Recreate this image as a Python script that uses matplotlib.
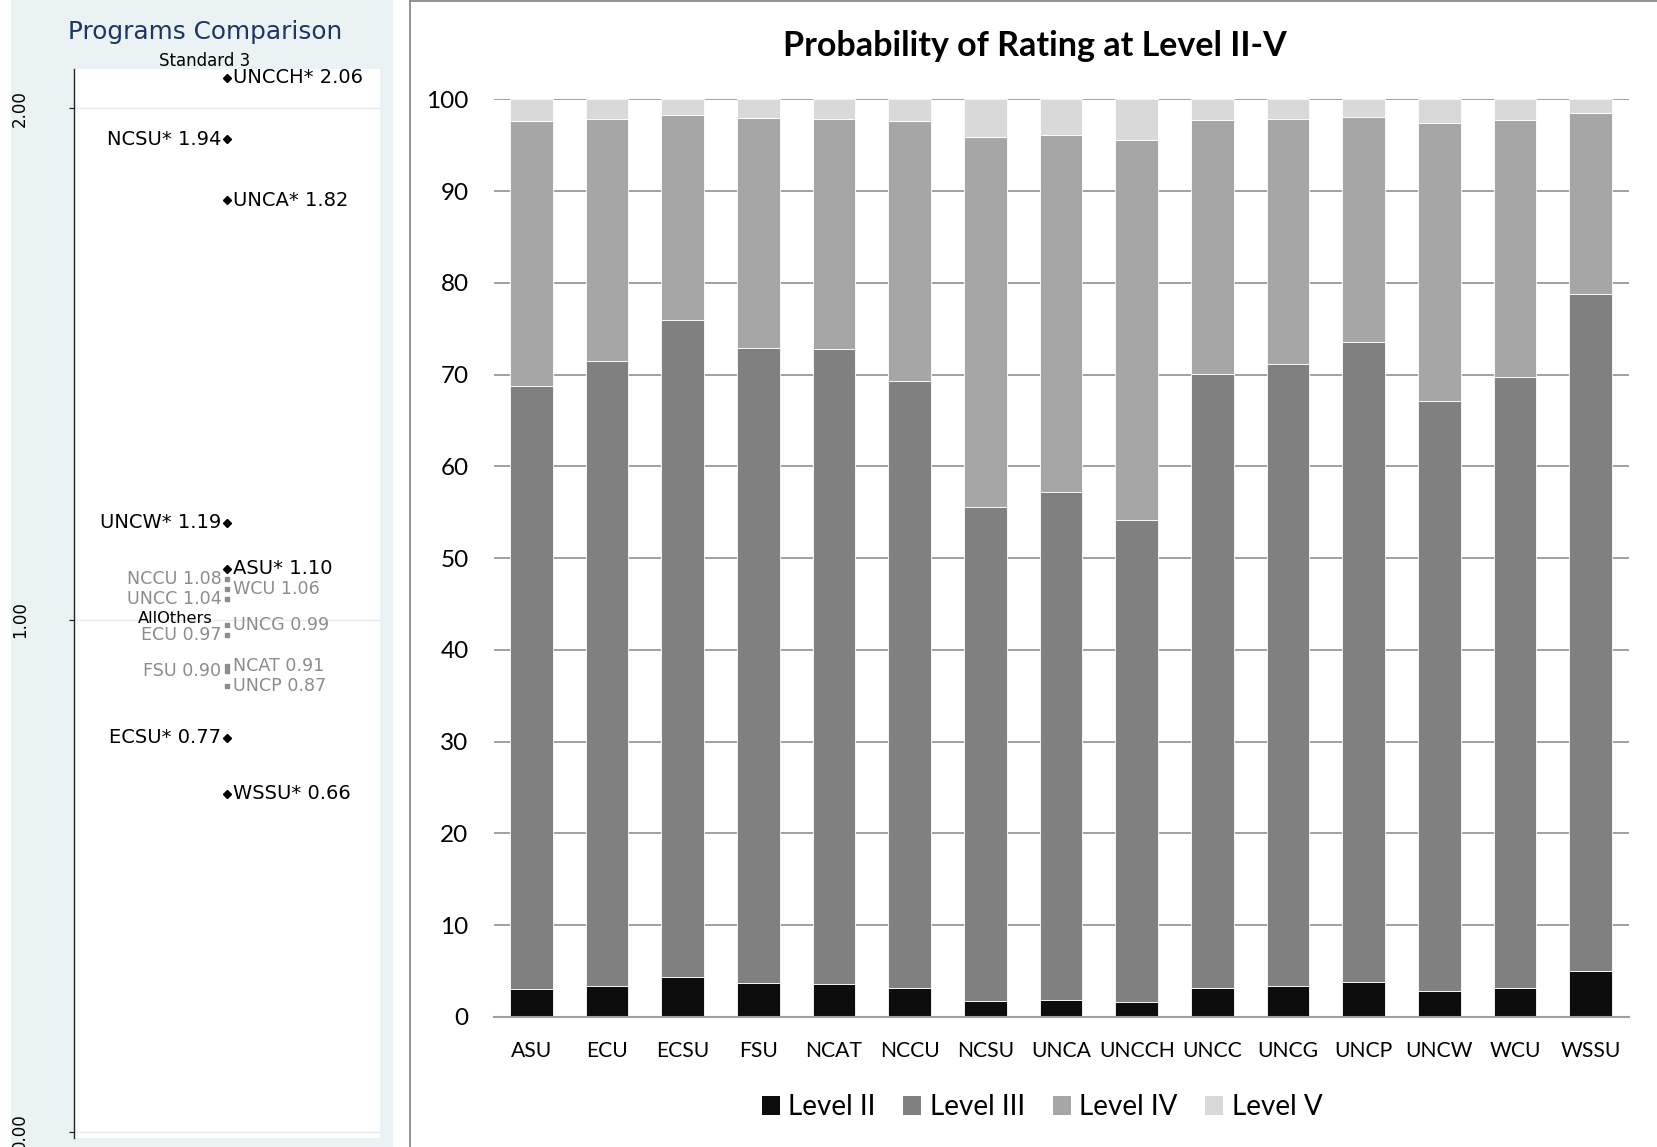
"""
Programs comparison (Standard 3) and probability of rating at level II-V
"""

import numpy as np
import matplotlib
matplotlib.use('Agg')
import matplotlib.pyplot as plt
from matplotlib.patches import Rectangle, Patch
from matplotlib.lines import Line2D

# ---- left panel data (Stata style dot chart)
prog_names = ['UNCCH*', 'NCSU*', 'UNCA*', 'UNCW*', 'ASU*', 'NCCU', 'WCU', 'UNCC',
              'UNCG', 'ECU', 'NCAT', 'FSU', 'UNCP', 'ECSU*', 'WSSU*']
prog_scores = [2.06, 1.94, 1.82, 1.19, 1.10, 1.08, 1.06, 1.04,
               0.99, 0.97, 0.91, 0.90, 0.87, 0.77, 0.66]
ref_name = 'AllOthers'
ref_score = 1.00
left_ticks = [0.0, 1.0, 2.0]
left_ticklabels = ['0.00', '1.00', '2.00']

# ---- right panel data (Excel style stacked bars, percent)
schools = ['ASU', 'ECU', 'ECSU', 'FSU', 'NCAT', 'NCCU', 'NCSU', 'UNCA',
           'UNCCH', 'UNCC', 'UNCG', 'UNCP', 'UNCW', 'WCU', 'WSSU']
level_2 = [3.0, 3.4, 4.3, 3.7, 3.6, 3.1, 1.7, 1.8, 1.6, 3.2, 3.4, 3.8, 2.8, 3.2, 5.0]
level_3 = [65.8, 68.1, 71.7, 69.2, 69.2, 66.2, 53.9, 55.4, 52.6, 66.9, 67.7, 69.8, 64.3, 66.5, 73.8]
level_4 = [28.8, 26.4, 22.3, 25.1, 25.1, 28.3, 40.3, 38.9, 41.4, 27.6, 26.8, 24.5, 30.3, 28.0, 19.7]
level_5 = [2.4, 2.1, 1.7, 2.0, 2.1, 2.4, 4.1, 3.9, 4.4, 2.3, 2.1, 1.9, 2.6, 2.3, 1.5]
level_names = ['Level II', 'Level III', 'Level IV', 'Level V']

# layout / style
W, H = 1657, 1147
label_side = ['r', 'l', 'r', 'l', 'r', 'l', 'r', 'l', 'r', 'l', 'r', 'l', 'r', 'l', 'r']
level_colors = ['#0d0d0d', '#808080', '#a6a6a6', '#d9d9d9']
stata_bg = '#eaf2f3'
navy = '#1f3566'
gray_txt = '#8c8c8c'

plt.rcParams['font.family'] = 'DejaVu Sans'
fig = plt.figure(figsize=(W / 100, H / 100), dpi=100)
fig.patch.set_facecolor('white')

# ---------------- left panel ----------------
bg = Rectangle((11 / W, 0), (393 - 11) / W, 1, transform=fig.transFigure,
               facecolor=stata_bg, edgecolor='none', zorder=-10)
fig.add_artist(bg)
fig.text(205 / W, 1 - 38.5 / H, 'Programs Comparison', ha='center', va='baseline',
         fontsize=17.8, color=navy)
fig.text(204.5 / W, 1 - 66.5 / H, 'Standard 3', ha='center', va='baseline',
         fontsize=12, color='black')

ax1 = fig.add_axes([74 / W, 1 - 1138 / H, (380 - 74) / W, (1138 - 69) / H])
ax1.set_zorder(2)
ax1.set_facecolor('white')
ax1.set_xlim(0, 1)
ax1.set_ylim(-0.0127, 2.077)
for y in left_ticks:
    ax1.axhline(y, color='#e3ecee', lw=1, zorder=1)
for sp in ['top', 'right', 'bottom']:
    ax1.spines[sp].set_visible(False)
ax1.spines['left'].set_color('#222222')
ax1.spines['left'].set_linewidth(1.0)
ax1.set_xticks([])
ax1.set_yticks(left_ticks)
ax1.set_yticklabels(left_ticklabels, rotation=90, va='center', fontsize=12)
ax1.tick_params(axis='y', length=3.6, width=0.9, pad=29, color='#222222')

mx = 0.5
for name, score, side in zip(prog_names, prog_scores, label_side):
    sig = name.endswith('*')
    col = 'black' if sig else gray_txt
    if sig:
        ax1.plot(mx, score, marker='D', ms=3.8, color='black', zorder=3)
    else:
        ax1.plot(mx, score, marker='s', ms=2.6, color=gray_txt, zorder=3)
    off = 4 if side == 'r' else -4
    ax1.annotate('{} {:.2f}'.format(name, score), (mx, score), xytext=(off, 0),
                 textcoords='offset points', ha='left' if side == 'r' else 'right',
                 va='center', fontsize=14 if sig else 12.6, color=col)
ax1.annotate(ref_name, (mx, ref_score), xytext=(-10, 1), textcoords='offset points',
             ha='right', va='center', fontsize=11.7, color='black')

# ---------------- right panel ----------------
fig.add_artist(Line2D([410 / W, 410 / W], [0, 1 - 1 / H], transform=fig.transFigure,
                      color='#8a8a8a', lw=1.3))
fig.add_artist(Line2D([410 / W, 1], [1 - 1 / H, 1 - 1 / H], transform=fig.transFigure,
                      color='#8a8a8a', lw=1.3))

ax2 = fig.add_axes([493.5 / W, 1 - 1016.9 / H, 1135 / W, (1016.9 - 99.3) / H])
x = np.arange(len(schools))
levels = [np.array(level_2), np.array(level_3), np.array(level_4), np.array(level_5)]
bottom = np.zeros(len(schools))
for vals, col, lab in zip(levels, level_colors, level_names):
    ax2.bar(x, vals, bottom=bottom, width=0.565, color=col, edgecolor='white',
            linewidth=0.6, label=lab, zorder=3)
    bottom = bottom + vals

ax2.set_xlim(-0.5, 14.5)
ax2.set_ylim(0, 100)
ax2.set_yticks(np.arange(0, 101, 10))
ax2.yaxis.grid(True, color='#878787', lw=1.1, zorder=0)
ax2.set_axisbelow(True)
for sp in ['top', 'right', 'left']:
    ax2.spines[sp].set_visible(False)
ax2.spines['bottom'].set_color('#a0a0a0')
ax2.spines['bottom'].set_linewidth(1.5)
ax2.spines['bottom'].set_zorder(4)
ax2.set_xticks(x)
ax2.set_xticklabels(schools, family='Lato', fontsize=15.2)
ax2.tick_params(axis='x', length=0, pad=17.5)
ax2.tick_params(axis='y', length=0, pad=18)
for t in ax2.get_yticklabels():
    t.set_family('Lato')
    t.set_fontsize(17.5)

fig.text(1035 / W, 1 - 46 / H, 'Probability of Rating at Level II-V', ha='center',
         va='center', family='Lato', fontweight='bold', fontsize=24.5)

handles = [Patch(facecolor=c, edgecolor='none') for c in level_colors]
fig.legend(handles, level_names, loc='center', bbox_to_anchor=(1042 / W, 1 - 1107 / H),
           ncol=4, frameon=False, prop={'family': 'Lato', 'size': 20},
           handlelength=0.65, handleheight=0.65, handletextpad=0.3, columnspacing=1.0)

plt.savefig('out.png', dpi=100)
